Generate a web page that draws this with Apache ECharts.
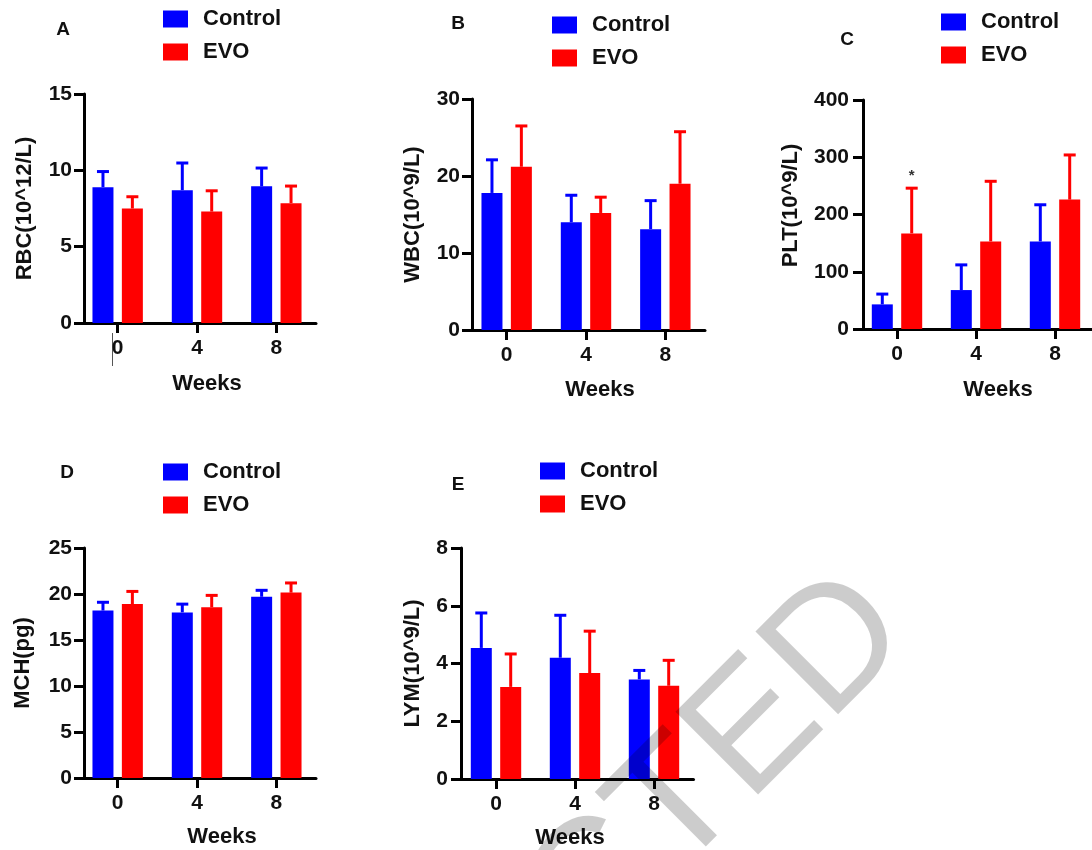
<!DOCTYPE html>
<html><head><meta charset="utf-8">
<script src="https://cdn.jsdelivr.net/npm/echarts@6/dist/echarts.min.js"></script>
<style>html,body{margin:0;padding:0;background:#fff}#c{width:1092px;height:850px}</style>
</head><body><div id="c"></div>
<script>
// ---------- data ----------
const weeks = ['0', '4', '8'];
const groupNames = ['Control', 'EVO'];

const rbcControl = [8.9, 8.7, 8.95];
const rbcControlSD = [1.02, 1.78, 1.2];
const rbcEVO = [7.5, 7.3, 7.85];
const rbcEVOSD = [0.77, 1.36, 1.12];

const wbcControl = [17.8, 14.0, 13.1];
const wbcControlSD = [4.3, 3.5, 3.7];
const wbcEVO = [21.2, 15.2, 19.0];
const wbcEVOSD = [5.3, 2.05, 6.75];

const pltControl = [43, 68, 153];
const pltControlSD = [18, 44, 64];
const pltEVO = [167, 153, 226];
const pltEVOSD = [79, 105, 78];
const pltEVOSig = ['*', '', ''];

const mchControl = [18.2, 18.0, 19.7];
const mchControlSD = [0.9, 0.9, 0.7];
const mchEVO = [18.9, 18.55, 20.15];
const mchEVOSD = [1.38, 1.3, 1.05];

const lymControl = [4.54, 4.2, 3.45];
const lymControlSD = [1.21, 1.47, 0.31];
const lymEVO = [3.19, 3.67, 3.23];
const lymEVOSD = [1.14, 1.45, 0.88];

const panelLetters = ['A', 'B', 'C', 'D', 'E'];
const yNames = ['RBC(10^12/L)', 'WBC(10^9/L)', 'PLT(10^9/L)', 'MCH(pg)', 'LYM(10^9/L)'];
const yMax = [15, 30, 400, 25, 8];
const yInterval = [5, 10, 100, 5, 2];
const xName = 'Weeks';

const panelData = [
  {c: rbcControl, cs: rbcControlSD, e: rbcEVO, es: rbcEVOSD, sig: null},
  {c: wbcControl, cs: wbcControlSD, e: wbcEVO, es: wbcEVOSD, sig: null},
  {c: pltControl, cs: pltControlSD, e: pltEVO, es: pltEVOSD, sig: pltEVOSig},
  {c: mchControl, cs: mchControlSD, e: mchEVO, es: mchEVOSD, sig: null},
  {c: lymControl, cs: lymControlSD, e: lymEVO, es: lymEVOSD, sig: null}
];

// ---------- layout / style ----------
const FF = 'Arial, "Liberation Sans", Helvetica, sans-serif';
const BLUE = '#0000ff', RED = '#ff0000', INK = '#111';
const BAR_W = 21, BAR_GAP = 0.4;
const OFF = BAR_W * (1 + BAR_GAP) / 2;

const layouts = [
  {left: 78,    top: 94,  width: 238, height: 229, yOff: -6,   yGap: 48, yPad: [0,0,0,0],  xGap: 50, xPad: [0,0,0,20], lblM: 12,
   letter: [63, 30],  legend: [163, 8]},
  {left: 467,   top: 99,  width: 238, height: 231, yOff: -5,   yGap: 48, yPad: [0,0,0,0],  xGap: 49, xPad: [0,0,0,28], lblM: 12,
   letter: [458, 24], legend: [552, 14]},
  {left: 857.5, top: 100, width: 237, height: 229, yOff: -5.5, yGap: 61, yPad: [0,0,0,18], xGap: 50, xPad: [0,0,0,44], lblM: 14,
   letter: [847, 40], legend: [941, 11]},
  {left: 78,    top: 548, width: 238, height: 230, yOff: -6,   yGap: 50, yPad: [0,0,0,0],  xGap: 48, xPad: [0,0,0,50], lblM: 12,
   letter: [67, 473], legend: [163, 461]},
  {left: 456.5, top: 548, width: 237, height: 231, yOff: -4.5, yGap: 37, yPad: [0,0,0,0],  xGap: 48, xPad: [0,10,0,0], lblM: 13,
   letter: [458, 485], legend: [540, 460]}
];

const lineStyle = {color: '#000', width: 3};
const labelStyle = {fontSize: 21, fontWeight: 'bold', color: INK, fontFamily: FF};
const nameStyle = {fontSize: 22, fontWeight: 'bold', color: INK, fontFamily: FF};

function errRender(color, side, sigs) {
  return function (params, api) {
    const i = api.value(0), m = api.value(1), sd = api.value(2);
    const p = api.coord([i, m]);
    const q = api.coord([i, m + sd]);
    const cx = p[0] + side * OFF;
    const children = [
      {type: 'line', shape: {x1: cx, y1: p[1], x2: cx, y2: q[1]}, style: {stroke: color, lineWidth: 3}},
      {type: 'line', shape: {x1: cx - 6, y1: q[1], x2: cx + 6, y2: q[1]}, style: {stroke: color, lineWidth: 3}}
    ];
    if (sigs && sigs[params.dataIndex]) {
      children.push({type: 'text', x: cx, y: q[1] - 12,
        style: {text: sigs[params.dataIndex], fill: '#333', font: 'bold 15px ' + FF, align: 'center', verticalAlign: 'middle'}});
    }
    return {type: 'group', children: children};
  };
}

const grid = [], xAxis = [], yAxis = [], series = [], legend = [], graphic = [];

layouts.forEach((L, k) => {
  const d = panelData[k];
  grid.push({left: L.left, top: L.top, width: L.width, height: L.height, containLabel: false, outerBoundsMode: 'none'});
  xAxis.push({
    type: 'category', gridIndex: k, data: weeks,
    axisLine: {show: true, lineStyle: lineStyle},
    axisTick: {show: true, alignWithLabel: true, length: 10, lineStyle: lineStyle},
    axisLabel: Object.assign({margin: 15}, labelStyle),
    splitLine: {show: false},
    name: xName, nameLocation: 'middle', nameGap: L.xGap, nameMoveOverlap: false,
    nameTextStyle: Object.assign({padding: L.xPad}, nameStyle)
  });
  yAxis.push({
    type: 'value', gridIndex: k, min: 0, max: yMax[k], interval: yInterval[k], offset: L.yOff,
    axisLine: {show: true, lineStyle: lineStyle},
    axisTick: {show: true, length: 10, lineStyle: lineStyle},
    axisLabel: Object.assign({margin: L.lblM}, labelStyle),
    splitLine: {show: false},
    name: yNames[k], nameLocation: 'middle', nameGap: L.yGap, nameRotate: 90, nameMoveOverlap: false,
    nameTextStyle: Object.assign({padding: L.yPad}, nameStyle)
  });
  series.push({
    type: 'bar', name: groupNames[0], xAxisIndex: k, yAxisIndex: k, data: d.c,
    barWidth: BAR_W, barGap: (BAR_GAP * 100) + '%', itemStyle: {color: BLUE}, z: 2
  });
  series.push({
    type: 'bar', name: groupNames[1], xAxisIndex: k, yAxisIndex: k, data: d.e,
    barWidth: BAR_W, barGap: (BAR_GAP * 100) + '%', itemStyle: {color: RED}, z: 2
  });
  series.push({
    type: 'custom', name: groupNames[0] + ' SD', xAxisIndex: k, yAxisIndex: k,
    data: weeks.map((w, i) => [i, d.c[i], d.cs[i]]), encode: {x: 0, y: 1},
    renderItem: errRender(BLUE, -1, null), z: 3, clip: false
  });
  series.push({
    type: 'custom', name: groupNames[1] + ' SD', xAxisIndex: k, yAxisIndex: k,
    data: weeks.map((w, i) => [i, d.e[i], d.es[i]]), encode: {x: 0, y: 1},
    renderItem: errRender(RED, 1, d.sig), z: 3, clip: false
  });
  legend.push({
    orient: 'vertical', left: L.legend[0], top: L.legend[1], padding: 0,
    itemWidth: 25, itemHeight: 17, itemGap: 11, icon: 'rect', selectedMode: false,
    data: groupNames,
    textStyle: {fontSize: 22, fontWeight: 'bold', color: INK, fontFamily: FF, padding: [0, 0, 0, 10]}
  });
  graphic.push({
    type: 'text', x: L.letter[0], y: L.letter[1],
    style: {text: panelLetters[k], font: 'bold 19px ' + FF, fill: INK, align: 'center', verticalAlign: 'middle'}
  });
});

// small stray stroke present in the source figure (panel A, below first tick)
graphic.push({type: 'line', shape: {x1: 112.5, y1: 333, x2: 112.5, y2: 366}, style: {stroke: '#555', lineWidth: 1}});
// watermark
graphic.push({
  type: 'text', x: 882, y: 604, rotation: Math.PI / 4, z: 100, silent: true,
  style: {text: 'RETRACTED', font: '170px ' + FF, fill: 'rgba(0,0,0,0.2)', align: 'right', verticalAlign: 'middle'}
});

const chart = echarts.init(document.getElementById('c'), null, {renderer: 'canvas'});
chart.setOption({
  backgroundColor: '#fff',
  animation: false,
  grid: grid, xAxis: xAxis, yAxis: yAxis, series: series, legend: legend,
  graphic: graphic
});
</script>
</body></html>
